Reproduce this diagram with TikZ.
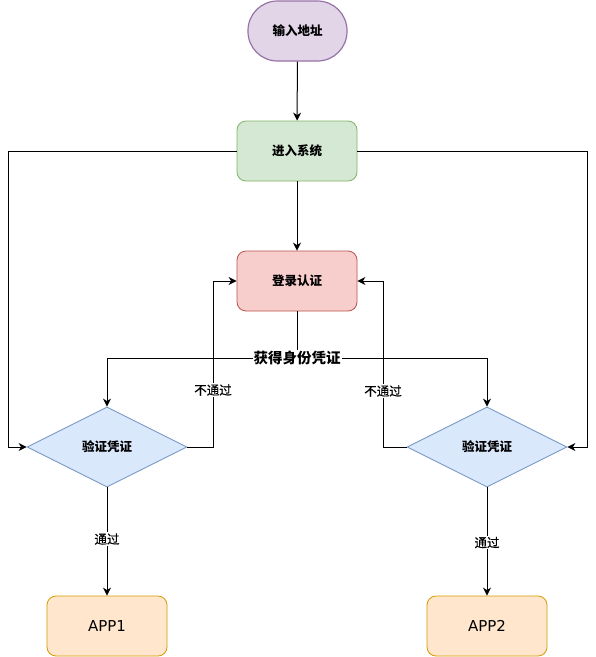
\documentclass[tikz,border=0pt]{standalone}
\usepackage{fontspec}
\setmainfont{Noto Sans CJK SC}
\newfontfamily\latinfont{DejaVu Sans}
\newfontfamily\cjkmed{Noto Sans CJK SC}[FakeBold=0.6]
\usetikzlibrary{shapes.geometric,arrows.meta}
\definecolor{purpFill}{HTML}{E1D5E7}\definecolor{purpLine}{HTML}{9673A6}
\definecolor{greenFill}{HTML}{D5E8D4}\definecolor{greenLine}{HTML}{82B366}
\definecolor{redFill}{HTML}{F8CECC}\definecolor{redLine}{HTML}{B85450}
\definecolor{blueFill}{HTML}{DAE8FC}\definecolor{blueLine}{HTML}{6C8EBF}
\definecolor{orangeFill}{HTML}{FFE6CC}\definecolor{orangeLine}{HTML}{D79B00}
\tikzset{
  box/.style={draw, rectangle, rounded corners=9pt, minimum width=120pt, minimum height=60pt, inner sep=0pt, line width=0.8pt, font=\fontsize{12.5pt}{14pt}\selectfont\bfseries},
  stadium/.style={draw=purpLine, fill=purpFill, rectangle, rounded corners=29.5pt, minimum width=99pt, minimum height=60pt, inner sep=0pt, line width=1.2pt, font=\fontsize{12.5pt}{14pt}\selectfont\bfseries},
  decision/.style={draw=blueLine, fill=blueFill, diamond, aspect=2, minimum width=160pt, minimum height=80pt, inner sep=0pt, line width=0.8pt, font=\fontsize{12.5pt}{14pt}\selectfont\bfseries},
  appbox/.style={box, draw=orangeLine, fill=orangeFill, font=\latinfont\fontsize{15pt}{17pt}\selectfont},
  arr/.style={draw, line width=1pt, -{Stealth[length=8pt,width=8pt,inset=2.5pt]}},
  lbl/.style={fill=white, inner sep=1pt, font=\cjkmed\fontsize{12.5pt}{14pt}\selectfont},
  biglbl/.style={fill=white, inner sep=1pt, font=\fontsize{14.5pt}{16pt}\selectfont\bfseries},
}
\begin{document}
\begin{tikzpicture}[x=1pt,y=-1pt]
\useasboundingbox (0,0) rectangle (596,657);
\fill[white] (0,0) rectangle (596,657);

\node[stadium] (start) at (297.5,31) {输入地址};
\node[box, draw=greenLine, fill=greenFill] (sys) at (297,151) {进入系统};
\node[box, draw=redLine, fill=redFill] (login) at (297,281) {登录认证};
\node[decision] (vl) at (107,447) {验证凭证};
\node[decision] (vr) at (487,447) {验证凭证};
\node[appbox] (app1) at (107,626) {APP1};
\node[appbox] (app2) at (487,626) {APP2};

\coordinate (lx) at (8,447);
\coordinate (rx) at (587,447);
\coordinate (mid) at (297,358);
\coordinate (lb) at (213,281);
\coordinate (rb) at (383,281);

\draw[arr] (start) -- (sys);
\draw[arr] (sys) -- (login);
\draw[arr] (sys.west) -| (lx) -- (vl.west);
\draw[arr] (sys.east) -| (rx) -- (vr.east);
\draw[arr] (login.south) -- (mid) -| (vl.north);
\draw[arr] (login.south) -- (mid) -| (vr.north);
\draw[arr] (vl.east) -| (lb) -- (login.west);
\draw[arr] (vr.west) -| (rb) -- (login.east);
\draw[arr] (vl.south) -- (app1.north);
\draw[arr] (vr.south) -- (app2.north);

\node[biglbl] (getid) at (mid) {获得身份凭证};
\node[lbl] (failL) at (213,390) {不通过};
\node[lbl] (failR) at (383,391) {不通过};
\node[lbl] (passL) at (107,539) {通过};
\node[lbl] (passR) at (487,542.5) {通过};
\end{tikzpicture}
\end{document}
